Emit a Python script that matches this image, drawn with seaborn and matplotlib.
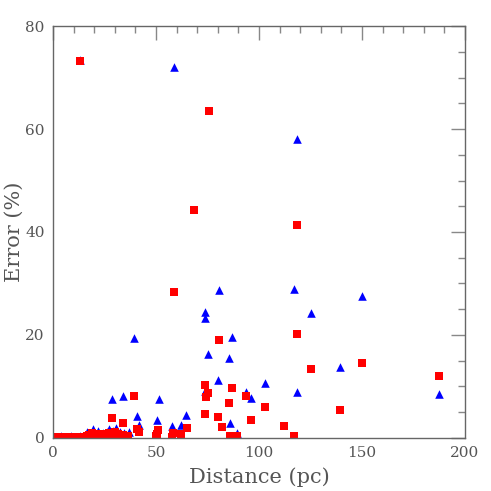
"""
Error vs distance scatter
"""
import matplotlib
matplotlib.use("Agg")
import matplotlib.pyplot as plt
import pandas as pd
import seaborn as sns
from matplotlib.ticker import MultipleLocator

# blue triangles
blue_x = [12.9, 58.6, 118.4, 80.6, 117.1, 73.9, 73.9, 125.2, 150.0, 86.9,
          75.1, 85.3, 139.3, 79.9, 73.8, 102.7, 93.5, 96.3, 118.3, 187.5,
          86.1, 89.5, 39.2, 28.5, 33.8, 51.5, 40.6, 50.3, 41.6, 57.9,
          62.0, 64.7, 19.3, 22.0, 16.4, 27.3, 30.6, 32.4, 36.7, 17.7,
          1.0, 2.5, 4.0, 5.5, 7.0, 8.5, 10.0, 11.5, 13.0, 14.5, 20.5, 24.5,
          26.0, 29.0, 34.5]
blue_y = [73.4, 72.0, 58.1, 28.7, 29.0, 24.4, 23.3, 24.3, 27.5, 19.7,
          16.4, 15.6, 13.8, 11.3, 9.1, 10.7, 8.9, 7.7, 9.0, 8.5,
          2.9, 1.0, 19.4, 7.5, 8.2, 7.6, 4.3, 3.4, 2.5, 2.4,
          2.5, 4.5, 1.7, 1.4, 1.2, 1.7, 2.0, 1.2, 1.2, 0.8,
          0.2, 0.2, 0.3, 0.2, 0.2, 0.3, 0.2, 0.2, 0.3, 0.3, 1.0, 0.9,
          1.1, 1.3, 0.9]

# red squares
red_x = [12.9, 75.9, 68.6, 118.4, 58.7, 80.6, 118.3, 125.2, 150.0, 187.5,
         73.8, 75.1, 74.1, 86.9, 93.7, 85.3, 102.7, 139.3, 73.6, 79.9,
         96.3, 82.2, 112.0, 85.9, 89.5, 117.1, 39.2, 28.5, 33.8, 40.6,
         41.8, 51.1, 50.5, 49.9, 58.3, 57.9, 62.1, 64.9, 36.6,
         0.5, 1.5, 2.5, 3.5, 4.5, 5.5, 6.5, 7.5, 8.5, 9.5, 10.5, 11.5,
         12.5, 13.5, 14.5, 15.5, 16.5, 17.5, 18.5, 19.5, 20.5, 21.5,
         22.5, 23.5, 24.5, 25.5, 26.5, 27.5, 28.5, 29.5, 30.5, 31.5,
         32.5, 34.0, 35.0, 19.0, 23.0, 27.0, 30.0]
red_y = [73.2, 63.5, 44.3, 41.4, 28.3, 19.0, 20.1, 13.3, 14.5, 12.0,
         10.2, 8.7, 8.0, 9.8, 8.2, 6.8, 6.1, 5.5, 4.7, 4.1,
         3.5, 2.1, 2.4, 0.3, 0.45, 0.45, 8.2, 3.9, 3.0, 1.7,
         1.1, 1.6, 0.7, 0.3, 1.0, 0.1, 0.8, 2.0, 0.4,
         0.0, 0.1, 0.0, 0.1, 0.0, 0.1, 0.0, 0.1, 0.0, 0.1, 0.0, 0.1,
         0.0, 0.1, 0.2, 0.1, 0.3, 0.5, 0.2, 0.6, 0.3, 0.7,
         0.2, 0.5, 0.1, 0.8, 0.3, 0.6, 0.2, 0.9, 0.4, 0.7,
         0.2, 0.5, 0.3, 0.9, 0.8, 1.0, 1.1]

blue = pd.DataFrame({"x": blue_x, "y": blue_y})
red = pd.DataFrame({"x": red_x, "y": red_y})

sns.set_style("white")
plt.rcParams["font.family"] = ["DejaVu Serif"]

fig = plt.figure(figsize=(4.91, 4.91), dpi=100)
ax = fig.add_axes([0.108, 0.108, 0.839, 0.839])

sns.scatterplot(data=blue, x="x", y="y", marker="^", color="#0000ff",
                s=38, linewidth=0, ax=ax)
sns.scatterplot(data=red, x="x", y="y", marker="s", color="#ff0000",
                s=26, linewidth=0, ax=ax)

ax.set_xlim(0, 200)
ax.set_ylim(0, 80)
ax.xaxis.set_major_locator(MultipleLocator(50))
ax.xaxis.set_minor_locator(MultipleLocator(10))
ax.yaxis.set_major_locator(MultipleLocator(20))
ax.yaxis.set_minor_locator(MultipleLocator(5))

gray = "#666666"
for sp in ax.spines.values():
    sp.set_color(gray)
    sp.set_linewidth(1.0)
ax.tick_params(which="both", direction="in", top=True, right=True,
               color="#888888", labelcolor="#555555", labelsize=11)
ax.tick_params(which="major", length=10, width=1.0, pad=6)
ax.tick_params(which="minor", length=5, width=1.0)

ax.set_xlabel("Distance (pc)", fontsize=15, color="#555555", labelpad=5)
ax.set_ylabel("Error (%)", fontsize=15, color="#555555")
ax.yaxis.set_label_coords(-0.072, 0.5)

plt.savefig("out.png", dpi=100)
